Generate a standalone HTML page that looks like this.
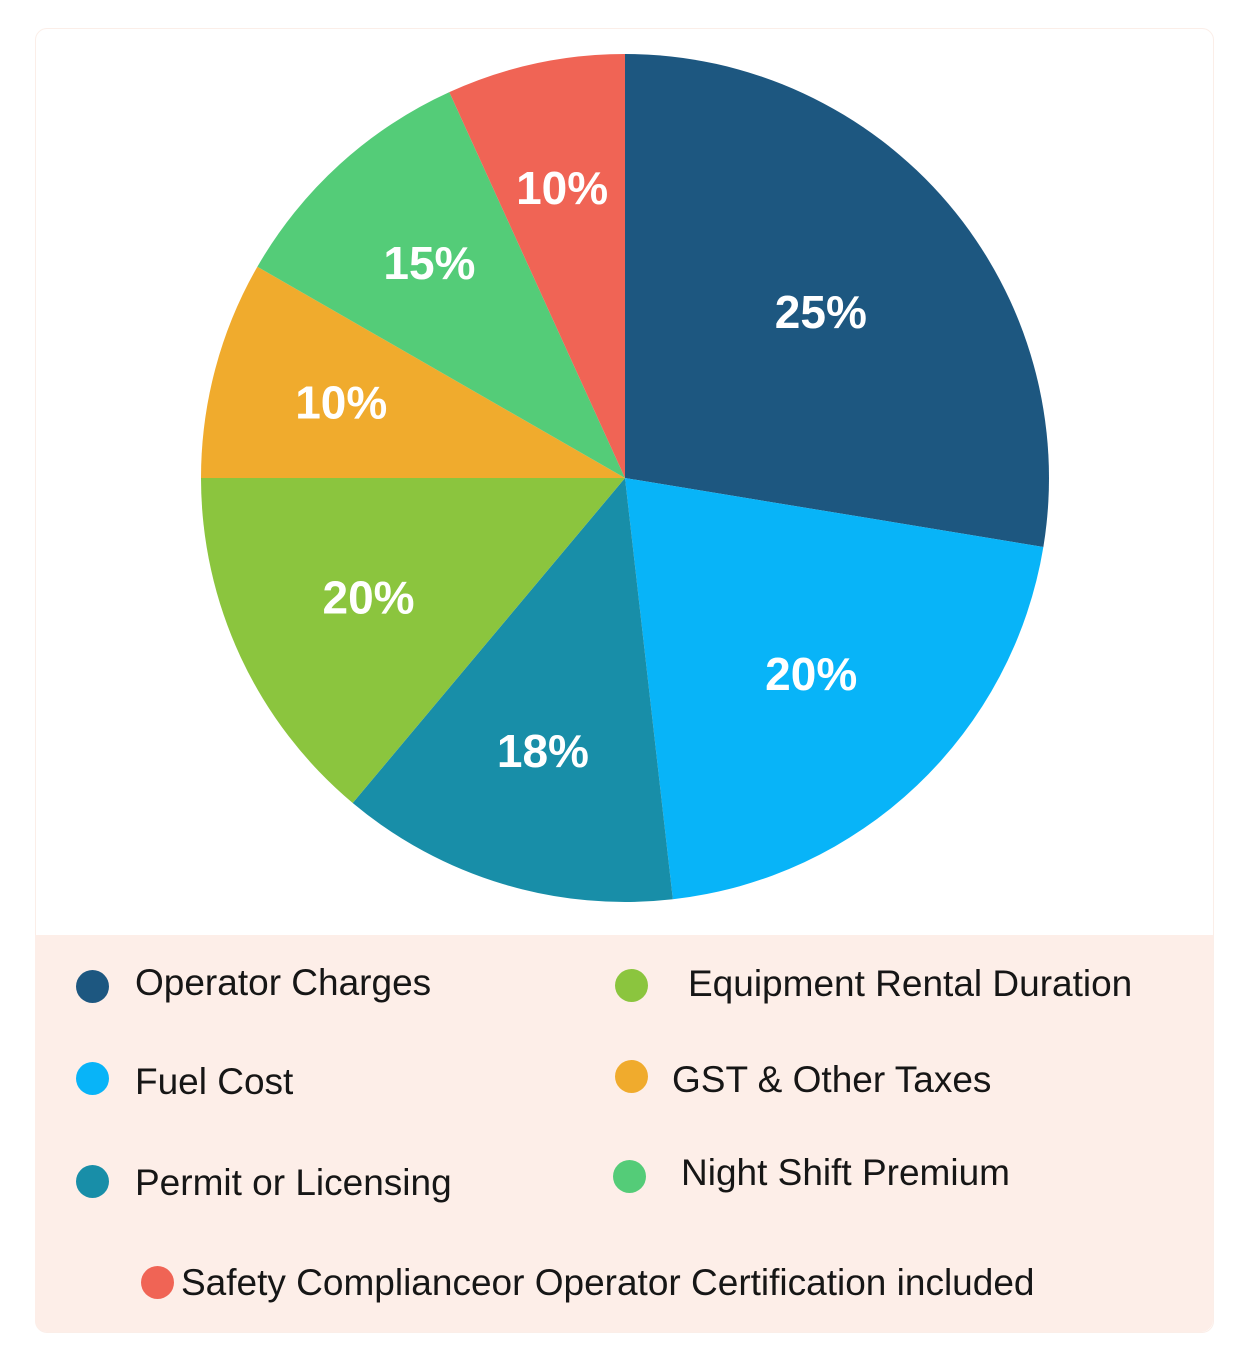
<!DOCTYPE html>
<html><head><meta charset="utf-8"><style>
html,body{margin:0;padding:0;background:#fff;width:1248px;height:1368px;overflow:hidden;font-family:"Liberation Sans",sans-serif}
#card{position:absolute;left:35px;top:28px;width:1177px;height:1303px;border:1px solid #fbeee8;border-radius:12px;background:#fff}
#legend{position:absolute;left:35px;top:935px;width:1178px;height:397px;background:#fdeee8;border-radius:0 0 12px 12px}
.li{position:absolute;font-size:37px;color:#161616;white-space:nowrap;line-height:1}
.dot{position:absolute;width:33px;height:33px;border-radius:50%}
</style></head><body>
<div id="card"></div>
<svg id="pie" width="1248" height="935" style="position:absolute;left:0;top:0"></svg>
<div id="legend">
<div class="dot" style="left:41px;top:35px;background:#1d5780"></div><div class="li" style="left:100px;top:29px">Operator Charges</div>
<div class="dot" style="left:41px;top:127px;background:#08b4f8"></div><div class="li" style="left:100px;top:128px">Fuel Cost</div>
<div class="dot" style="left:41px;top:230px;background:#188ea8"></div><div class="li" style="left:100px;top:229px">Permit or Licensing</div>
<div class="dot" style="left:580px;top:34px;background:#8bc53e"></div><div class="li" style="left:653px;top:30px">Equipment Rental Duration</div>
<div class="dot" style="left:580px;top:125px;background:#f0ab2d"></div><div class="li" style="left:637px;top:126px">GST &amp; Other Taxes</div>
<div class="dot" style="left:578px;top:225px;background:#54cc78"></div><div class="li" style="left:646px;top:219px">Night Shift Premium</div>
<div class="dot" style="left:106px;top:331px;background:#f06455"></div><div class="li" style="left:146px;top:329px">Safety Complianceor Operator Certification included</div>
</div>
<script>
const categories=["Operator Charges","Fuel Cost","Permit or Licensing","Equipment Rental Duration","GST & Other Taxes","Night Shift Premium","Safety Compliance"];
const shares=[27.6,20.6,12.9,13.9,8.3,9.9,6.8];
const labels=["25%","20%","18%","20%","10%","15%","10%"];
const colors=["#1d5780","#08b4f8","#188ea8","#8bc53e","#f0ab2d","#54cc78","#f06455"];
const svg=document.getElementById('pie');const NS="http://www.w3.org/2000/svg";
const cx=625,cy=478,R=424;
const total=shares.reduce((a,b)=>a+b,0);
function pt(a,r){return [cx+r*Math.sin(a),cy-r*Math.cos(a)];}
let a0=0;
shares.forEach((v,i)=>{
  const a1=a0+v/total*2*Math.PI;
  const p0=pt(a0,R),p1=pt(a1,R);
  const path=document.createElementNS(NS,'path');
  path.setAttribute('d',`M${cx},${cy}L${p0[0]},${p0[1]}A${R},${R} 0 ${a1-a0>Math.PI?1:0} 1 ${p1[0]},${p1[1]}Z`);
  path.setAttribute('fill',colors[i]);
  
  
  svg.appendChild(path);
  a0=a1;
});
a0=0;
shares.forEach((v,i)=>{
  const a1=a0+v/total*2*Math.PI;
  const m=(a0+a1)/2;
  const r=R*(0.58+0.15*(1-v/total*3));
  const p=pt(m,r);
  const t=document.createElementNS(NS,'text');
  t.setAttribute('x',p[0]);t.setAttribute('y',p[1]+16);
  t.setAttribute('text-anchor','middle');t.setAttribute('fill','#fff');
  t.setAttribute('font-size','46');t.setAttribute('font-weight','bold');
  t.setAttribute('font-family','Liberation Sans, sans-serif');
  t.textContent=labels[i];
  
  
  svg.appendChild(t);
  a0=a1;
});
</script>
</body></html>
